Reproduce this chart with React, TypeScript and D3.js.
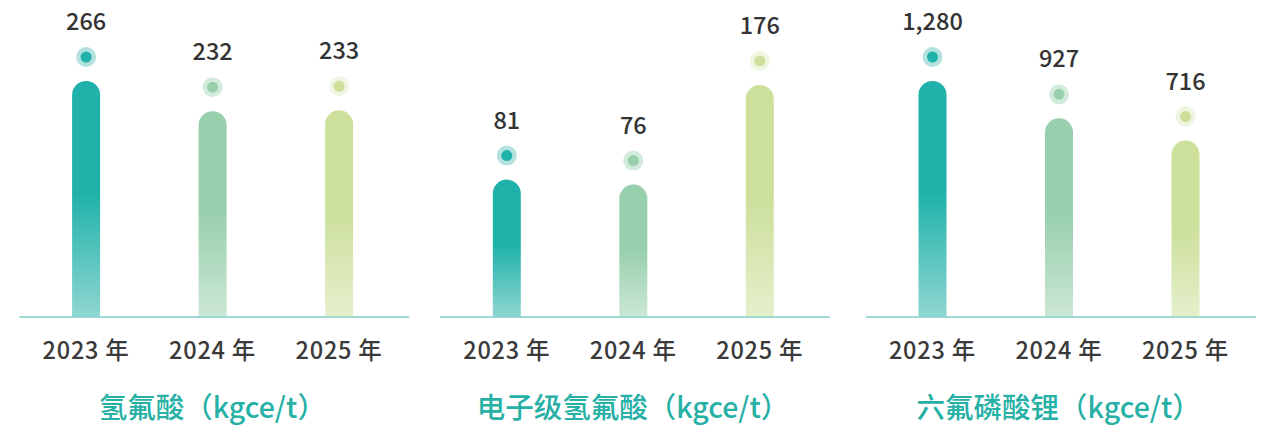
import React from "react";
import * as d3 from "d3";

const years = ["2023 年", "2024 年", "2025 年"];
const titles = ["氢氟酸（kgce/t）", "电子级氢氟酸（kgce/t）", "六氟磷酸锂（kgce/t）"];
const hfValues = [266, 232, 233];
const ehfValues = [81, 76, 176];
const lipf6Values = [1280, 927, 716];
const seriesValues = [hfValues, ehfValues, lipf6Values];
const yDomainMin = [0, -57, -953];
const yDomainMax = [266, 180, 1280];

const barColors = ["#20b2aa", "#98cfac", "#ccdf9b"];
const barLight = ["#8fd6d1", "#cbe7d5", "#e5f0cc"];
const haloColors = ["#b3e2df", "#d3ebdc", "#eef5e0"];

const W = 1271;
const H = 430;
const panelX = [19.3, 440, 865.7];
const panelW = 390;
const baseY = 317;
const topY = 81;
const barW = 28;

function barPath(cx: number, yTop: number, yBottom: number, w: number) {
  const r = w / 2;
  const p = d3.path();
  p.moveTo(cx - r, yBottom);
  p.lineTo(cx - r, yTop + r);
  p.arc(cx, yTop + r, r, Math.PI, 0);
  p.lineTo(cx + r, yBottom);
  p.closePath();
  return p.toString();
}

export default function App() {
  const fmt = d3.format(",");
  return (
    <svg
      width={W}
      height={H}
      style={{ position: "absolute", left: 0, top: 0, background: "#fff" }}
      fontFamily="'Noto Sans CJK SC', sans-serif"
    >
      <defs>
        {barColors.map((c, i) => (
          <linearGradient key={i} id={`g${i}`} x1="0" y1="0" x2="0" y2="1">
            <stop offset="0" stopColor={c} />
            <stop offset="0.48" stopColor={c} />
            <stop offset="1" stopColor={barLight[i]} />
          </linearGradient>
        ))}
      </defs>
      {seriesValues.map((vals, pi) => {
        const x0 = panelX[pi];
        const x = d3
          .scalePoint<string>()
          .domain(years)
          .range([x0 + 66.8, x0 + 319.8]);
        const y = d3
          .scaleLinear()
          .domain([yDomainMin[pi], yDomainMax[pi]])
          .range([baseY, topY]);
        return (
          <g key={pi}>
            {vals.map((v, i) => {
              const cx = x(years[i])!;
              const yt = y(v);
              const cy = yt - 24;
              return (
                <g key={i}>
                  <path d={barPath(cx, yt, baseY, barW)} fill={`url(#g${i})`} />
                  <circle cx={cx} cy={cy} r={10} fill={haloColors[i]} />
                  <circle cx={cx} cy={cy} r={5.5} fill={barColors[i]} />
                  <text
                    x={cx}
                    y={cy - 27}
                    textAnchor="middle"
                    fontSize={23.5}
                    fontWeight={500}
                    fill="#333"
                  >
                    {fmt(v)}
                  </text>
                  <text
                    x={cx}
                    y={358.5}
                    textAnchor="middle"
                    fontSize={23.5}
                    fontWeight={500}
                    letterSpacing={0.8}
                    fill="#3a3a3a"
                  >
                    {years[i]}
                  </text>
                </g>
              );
            })}
            <line
              x1={x0}
              x2={x0 + panelW}
              y1={baseY}
              y2={baseY}
              stroke="#7fcfca"
              strokeWidth={1.5}
            />
            <text
              x={x0 + panelW / 2 - 2}
              y={418}
              textAnchor="middle"
              fontSize={28.5}
              fontWeight={500}
              fill="#26b0a6"
            >
              {titles[pi]}
            </text>
          </g>
        );
      })}
    </svg>
  );
}
